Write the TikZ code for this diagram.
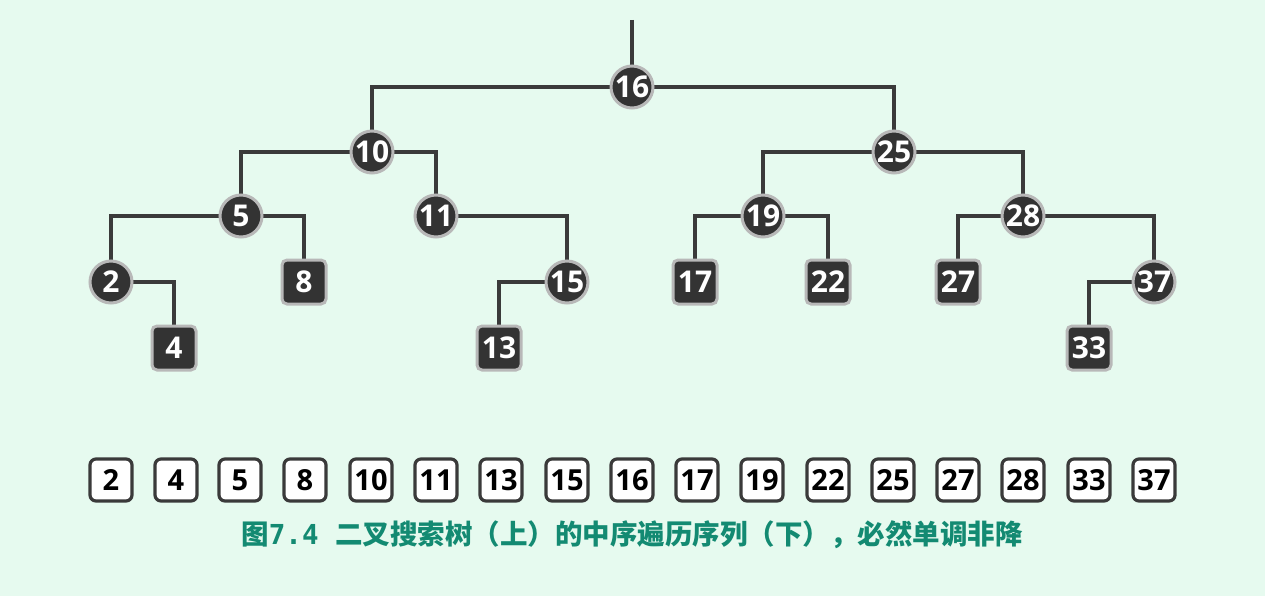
\documentclass[tikz,border=0pt]{standalone}
\usepackage{fontspec}
\setmainfont{Open Sans}
\newfontfamily\cjk{Noto Sans CJK SC}
\newfontfamily\monof{DejaVu Sans Mono}
\definecolor{bgc}{HTML}{E6FAEF}
\definecolor{nodefill}{HTML}{333333}
\definecolor{nodering}{HTML}{B8B8B8}
\definecolor{edgec}{HTML}{3A3A3A}
\definecolor{capc}{HTML}{138A72}
\begin{document}
\begin{tikzpicture}[x=1pt,y=-1pt,
  inner/.style={circle,fill=nodefill,draw=nodering,line width=3pt,minimum size=42pt,inner sep=0pt,text=white,font=\bfseries\fontsize{30}{30}\selectfont},
  leaf/.style={rounded corners=5pt,fill=nodefill,draw=nodering,line width=3pt,minimum size=44pt,inner sep=0pt,text=white,font=\bfseries\fontsize{30}{30}\selectfont},
  seq/.style={rounded corners=6pt,fill=white,draw=edgec,line width=3.2pt,minimum size=42pt,inner sep=0pt,text=black,font=\bfseries\fontsize{29}{29}\selectfont},
  edge/.style={draw=edgec,line width=4pt}]
\fill[bgc] (0,0) rectangle (1265,596);
\useasboundingbox (0,0) rectangle (1265,596);
\coordinate (top) at (632,20);
\path
 (632,87) coordinate (p16)
 (372,152) coordinate (p10) (894,152) coordinate (p25)
 (241,216) coordinate (p5) (436,216) coordinate (p11) (763,216) coordinate (p19) (1023,216) coordinate (p28)
 (111,282) coordinate (p2) (304,282) coordinate (p8) (567,282) coordinate (p15) (695,282) coordinate (p17) (828,282) coordinate (p22) (958,282) coordinate (p27) (1154,282) coordinate (p37)
 (174,348) coordinate (p4) (499,348) coordinate (p13) (1089,348) coordinate (p33);
\draw[edge] (top) -- (p16);
\foreach \a/\b in {16/10,16/25,10/5,10/11,25/19,25/28,5/2,5/8,11/15,19/17,19/22,28/27,28/37,2/4,15/13,37/33}
  \draw[edge] (p\a) -| (p\b);
\foreach \v in {16,10,25,5,11,19,28,2,15,37}
  \node[inner] (n\v) at (p\v) {\v};
\foreach \v in {8,17,22,27,4,13,33}
  \node[leaf] (n\v) at (p\v) {\v};
\foreach \v/\x in {2/111,4/176,5/240,8/305,10/371,11/436,13/501,15/567,16/632,17/697,19/762,22/828,25/893,27/958,28/1023,33/1089,37/1154}
  \node[seq] (s\v) at (\x,480) {\v};
\node[text=capc,font=\cjk\bfseries\fontsize{27.5}{27.5}\selectfont] (cap) at (632,535)
  {图{\monof\bfseries 7.4}\hspace{0.6em}二叉搜索树（上）的中序遍历序列（下），必然单调非降};
\end{tikzpicture}
\end{document}
